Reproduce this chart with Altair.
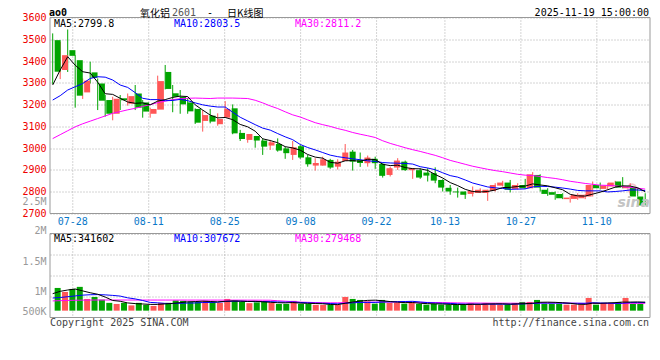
import json
import altair as alt
import pandas as pd

# ---------------- data ----------------
opens = [3496, 3359, 3450, 3404, 3256, 3348, 3297, 3221, 3158, 3229,
         3204, 3251, 3210, 3158, 3177, 3350, 3252, 3236, 3210, 3180,
         3125, 3149, 3110, 3140, 3183, 3070, 3038, 3056, 3035, 3012,
         3019, 2999, 2969, 3009, 2958, 2920, 2920, 2946, 2915, 2941,
         2984, 2945, 2931, 2951, 2928, 2877, 2911, 2938, 2899, 2899,
         2888, 2885, 2854, 2818, 2801, 2801, 2790, 2794, 2794, 2804,
         2828, 2842, 2813, 2831, 2816, 2877, 2809, 2798, 2790, 2766,
         2767, 2770, 2778, 2831, 2813, 2824, 2847, 2816, 2819, 2778]
highs = [3527, 3488, 3545, 3427, 3320, 3397, 3320, 3244, 3236, 3244,
         3251, 3290, 3221, 3186, 3333, 3382, 3290, 3267, 3229, 3183,
         3175, 3180, 3160, 3216, 3201, 3084, 3065, 3056, 3045, 3038,
         3045, 3007, 3033, 3015, 2969, 2954, 2961, 2951, 2949, 3019,
         2992, 2980, 2966, 2961, 2931, 2915, 2954, 2943, 2908, 2908,
         2908, 2912, 2857, 2831, 2819, 2801, 2824, 2816, 2809, 2839,
         2850, 2854, 2839, 2859, 2890, 2880, 2816, 2801, 2793, 2781,
         2793, 2790, 2847, 2842, 2839, 2850, 2867, 2839, 2819, 2793]
lows = [3295, 3317, 3350, 3186, 3226, 3297, 3175, 3145, 3128, 3175,
        3195, 3175, 3140, 3140, 3177, 3270, 3165, 3158, 3158, 3111,
        3076, 3114, 3103, 3140, 3064, 3033, 3025, 3002, 2969, 2992,
        2984, 2951, 2946, 2951, 2915, 2897, 2920, 2905, 2902, 2941,
        2897, 2914, 2915, 2905, 2865, 2870, 2900, 2896, 2859, 2859,
        2847, 2839, 2801, 2786, 2773, 2767, 2778, 2794, 2758, 2801,
        2824, 2797, 2809, 2813, 2816, 2801, 2781, 2763, 2766, 2750,
        2763, 2766, 2778, 2810, 2809, 2824, 2816, 2786, 2778, 2737]
closes = [3351, 3427, 3424, 3241, 3310, 3323, 3218, 3158, 3227, 3220,
          3239, 3186, 3168, 3180, 3308, 3272, 3236, 3201, 3169, 3117,
          3152, 3122, 3134, 3180, 3068, 3042, 3065, 3035, 3007, 3027,
          2989, 2977, 3004, 2957, 2926, 2932, 2949, 2911, 2938, 2980,
          2938, 2932, 2957, 2931, 2873, 2908, 2943, 2899, 2908, 2865,
          2874, 2851, 2819, 2801, 2797, 2786, 2804, 2809, 2809, 2831,
          2842, 2809, 2831, 2816, 2880, 2819, 2790, 2786, 2770, 2773,
          2786, 2786, 2831, 2816, 2828, 2842, 2819, 2824, 2778, 2737]
ma5 = [3290, 3359, 3420, 3381, 3351, 3345, 3303, 3250, 3247, 3229,
       3212, 3206, 3208, 3199, 3216, 3223, 3233, 3239, 3237, 3199,
       3175, 3152, 3139, 3141, 3131, 3109, 3098, 3078, 3043, 3035,
       3025, 3007, 3001, 2991, 2971, 2959, 2954, 2935, 2931, 2942,
       2943, 2940, 2949, 2948, 2926, 2920, 2922, 2911, 2906, 2905,
       2898, 2879, 2863, 2842, 2828, 2811, 2801, 2799, 2801, 2808,
       2819, 2820, 2824, 2826, 2836, 2831, 2827, 2818, 2809, 2788,
       2781, 2780, 2789, 2798, 2809, 2821, 2827, 2826, 2818, 2800]
ma10 = [3221, 3241, 3267, 3282, 3297, 3320, 3328, 3326, 3313, 3290,
        3279, 3255, 3229, 3223, 3223, 3218, 3219, 3224, 3218, 3208,
        3199, 3193, 3189, 3189, 3165, 3142, 3125, 3108, 3092, 3083,
        3067, 3052, 3039, 3017, 3003, 2992, 2980, 2968, 2961, 2956,
        2951, 2947, 2942, 2939, 2934, 2932, 2931, 2930, 2927, 2915,
        2909, 2901, 2887, 2874, 2867, 2854, 2840, 2831, 2822, 2818,
        2815, 2811, 2812, 2813, 2822, 2825, 2824, 2821, 2817, 2812,
        2806, 2804, 2804, 2804, 2799, 2801, 2804, 2808, 2808, 2805]
ma30 = [3044, 3062, 3080, 3098, 3112, 3124, 3136, 3148, 3160, 3168,
        3176, 3183, 3192, 3200, 3209, 3216, 3223, 3227, 3229, 3230,
        3229, 3228, 3230, 3230, 3230, 3229, 3228, 3220, 3208, 3194,
        3182, 3167, 3153, 3143, 3130, 3117, 3108, 3100, 3090, 3082,
        3072, 3064, 3057, 3049, 3034, 3022, 3012, 3002, 2993, 2985,
        2976, 2967, 2956, 2944, 2935, 2926, 2917, 2910, 2903, 2897,
        2892, 2886, 2880, 2876, 2874, 2870, 2865, 2861, 2855, 2848,
        2843, 2838, 2834, 2830, 2829, 2827, 2823, 2820, 2816, 2812]
# volumes in thousands of lots
volumes_k = [863, 711, 825, 904, 445, 521, 418, 296, 255, 296,
             201, 296, 220, 179, 293, 296, 388, 372, 334, 334,
             372, 334, 296, 445, 391, 334, 285, 315, 361, 296,
             255, 255, 372, 255, 255, 220, 220, 220, 228, 521,
             445, 407, 353, 266, 407, 293, 293, 266, 293, 255,
             228, 255, 228, 228, 228, 228, 293, 228, 293, 255,
             228, 228, 293, 331, 331, 407, 255, 255, 255, 228,
             228, 228, 483, 228, 293, 293, 331, 483, 255, 255]
vma5_k = [646, 735, 785, 823, 750, 681, 623, 517, 387, 357,
          293, 269, 254, 238, 238, 257, 275, 306, 337, 345,
          360, 349, 334, 356, 368, 360, 350, 354, 337, 318,
          302, 296, 308, 287, 278, 271, 264, 234, 229, 282,
          327, 364, 391, 398, 376, 345, 322, 305, 310, 280,
          267, 259, 252, 239, 233, 233, 241, 241, 254, 259,
          259, 246, 259, 267, 282, 318, 323, 316, 301, 280,
          244, 239, 284, 279, 292, 305, 326, 326, 331, 323]
vma10_k = [480, 500, 530, 560, 590, 605, 610, 600, 580, 554,
           487, 446, 386, 313, 298, 275, 272, 280, 288, 292,
           309, 312, 320, 347, 357, 360, 350, 344, 347, 343,
           331, 323, 331, 312, 298, 287, 280, 271, 258, 280,
           299, 314, 313, 314, 329, 336, 343, 348, 354, 328,
           306, 291, 279, 275, 257, 250, 250, 247, 247, 246,
           246, 244, 250, 261, 271, 289, 285, 288, 284, 281,
           281, 281, 300, 290, 286, 275, 283, 305, 305, 308]
vma30_k = [370, 380, 388, 395, 400, 403, 405, 405, 405, 405,
           404, 404, 403, 403, 403, 403, 403, 403, 402, 402,
           402, 401, 401, 400, 400, 400, 399, 398, 397, 396,
           376, 360, 345, 324, 317, 307, 301, 298, 297, 305,
           313, 317, 321, 324, 328, 328, 324, 321, 320, 317,
           312, 310, 307, 300, 295, 291, 291, 288, 286, 285,
           284, 283, 280, 283, 285, 292, 293, 294, 295, 285,
           278, 272, 276, 275, 271, 271, 272, 280, 278, 278]

# trading days shown (National Day holiday Oct 1-8 closed)
trade_days = [d.strftime('%m-%d') for d in pd.bdate_range('2025-07-23', '2025-11-19')
              if not ('2025-10-01' <= d.strftime('%Y-%m-%d') <= '2025-10-08')]
date_labels = ['07-28', '08-11', '08-25', '09-08', '09-22', '10-13', '10-27', '11-10']
price_ticks = [2700, 2800, 2900, 3000, 3100, 3200, 3300, 3400, 3500, 3600]
vol_tick_labels = ['500K', '1M', '1.5M', '2M', '2.5M']
legend_price = ['MA5:2799.8', 'MA10:2803.5', 'MA30:2811.2']
legend_vol = ['MA5:341602', 'MA10:307672', 'MA30:279468']

n = len(closes)
for lst in (opens, highs, lows, ma5, ma10, ma30, volumes_k, vma5_k, vma10_k, vma30_k, trade_days):
    assert len(lst) == n, len(lst)

date_label_pos = [trade_days.index(s) for s in date_labels]

# ---------------- styling / layout ----------------
RED = '#FF5656'
GREEN = '#00A400'
GRID = '#A8A8A8'
FRAME = '#999999'
MONO = 'DejaVu Sans Mono'
CJK = 'Noto Sans CJK SC'
W = 600
HP = 196            # price panel height
GAP = 20            # gap holding the date labels
HV = 84             # volume panel height
H = HP + GAP + HV
VT = HP + GAP       # volume panel top
VLO, VHI = -260, 2932          # volume scale (thousands)
vq = (VHI - VLO) / 4
vol_axis_vals = [int(VLO + vq), int(VLO + 2 * vq), int(VLO + 3 * vq), VHI, VHI - 1]
vol_label_shift = [14.5, 15.5, 6.5, -3, -32]

df = pd.DataFrame(dict(i=range(n), open=opens, high=highs, low=lows, close=closes,
                       ma5=ma5, ma10=ma10, ma30=ma30, vol=volumes_k,
                       vma5=vma5_k, vma10=vma10_k, vma30=vma30_k))
grid_df = pd.DataFrame(dict(pos=date_label_pos, lab=date_labels))
one = pd.DataFrame({'a': [0]})

base = alt.Chart(df)
xA = alt.X('i:Q', scale=alt.Scale(domain=[-0.36, n - 0.36], nice=False, zero=False), axis=None)
xB = alt.X('pos:Q', scale=alt.Scale(domain=[0, n - 1], nice=False, zero=False), axis=None)
cond = alt.condition('datum.close >= datum.open', alt.value(RED), alt.value(GREEN))
pscale = alt.Scale(domain=[2700, 3600], range=[HP, 0], nice=False, zero=False)
vscale = alt.Scale(domain=[VLO, VHI], range=[H, VT], nice=False, zero=False)


def note(text, x, y, color='#000000', size=10, font=MONO, align='left', weight='normal',
         style='normal', baseline='alphabetic'):
    return alt.Chart(pd.DataFrame({'t': [text]})).mark_text(
        align=align, baseline=baseline, font=font, fontSize=size, color=color,
        fontWeight=weight, fontStyle=style).encode(x=alt.value(x), y=alt.value(y), text='t:N')


def frame(y0, y1):
    return alt.Chart(one).mark_rect(fillOpacity=0, stroke=FRAME, strokeWidth=1).encode(
        x=alt.value(0), x2=alt.value(W), y=alt.value(y0), y2=alt.value(y1))


# vertical date grid (dates spaced over n-1 intervals) and date labels
vgrid_top = alt.Chart(grid_df).mark_rule(color=GRID, strokeDash=[1, 2], strokeWidth=1).encode(
    x=xB, y=alt.value(0), y2=alt.value(HP))
vgrid_vol = alt.Chart(grid_df).mark_rule(color=GRID, strokeDash=[1, 2], strokeWidth=1).encode(
    x=xB, y=alt.value(VT), y2=alt.value(H))
date_text = alt.Chart(grid_df).mark_text(baseline='top', align='center', font=MONO, fontSize=10,
                                         color='#0A78C8').encode(
    x=xB, y=alt.value(HP + 3), text='lab:N')

# sina watermark logo (faint)
logo = alt.Chart(one).mark_point(shape='circle', filled=False, color='#F3B9C1', size=70,
                                 strokeWidth=2, opacity=0.8).encode(
    x=alt.value(582), y=alt.value(171))

# ---------------- price panel ----------------
price_axis = alt.Axis(values=price_ticks, format='d', orient='left', labelColor='#EE0000',
                      labelFont=MONO, labelFontSize=10, labelPadding=4, ticks=False, domain=False,
                      grid=True, gridColor=GRID, gridDash=[1, 2], gridWidth=1, title=None)
wick = base.mark_rule(strokeWidth=1).encode(
    x=xA, y=alt.Y('low:Q', scale=pscale, axis=price_axis), y2='high:Q', color=cond)
body = base.mark_bar(size=6).encode(x=xA, y=alt.Y('open:Q', scale=pscale, axis=None),
                                    y2='close:Q', color=cond)
l30 = base.mark_line(color='#FF00FF', strokeWidth=1).encode(x=xA, y=alt.Y('ma30:Q', scale=pscale, axis=None))
l10 = base.mark_line(color='#0000FF', strokeWidth=1).encode(x=xA, y=alt.Y('ma10:Q', scale=pscale, axis=None))
l5 = base.mark_line(color='#000000', strokeWidth=1).encode(x=xA, y=alt.Y('ma5:Q', scale=pscale, axis=None))

# ---------------- volume panel ----------------
vol_label_expr = f"{json.dumps(vol_tick_labels)}[indexof({json.dumps(vol_axis_vals)}, datum.value)]"
vol_offset_expr = f"{json.dumps(vol_label_shift)}[indexof({json.dumps(vol_axis_vals)}, datum.value)]"
vol_axis = alt.Axis(values=vol_axis_vals, labelExpr=vol_label_expr, labelOffset={'expr': vol_offset_expr},
                    orient='left', labelOverlap=False, labelColor='#999999', labelFont=MONO,
                    labelFontSize=10, labelPadding=4, ticks=False, domain=False, grid=True,
                    gridColor=GRID, gridDash=[1, 2], gridWidth=1, title=None)
vbars = base.mark_bar(size=6).encode(x=xA, y=alt.Y('vol:Q', scale=vscale, axis=vol_axis), color=cond)
v30 = base.mark_line(color='#FF00FF', strokeWidth=1).encode(x=xA, y=alt.Y('vma30:Q', scale=vscale, axis=None))
v10 = base.mark_line(color='#0000FF', strokeWidth=1).encode(x=xA, y=alt.Y('vma10:Q', scale=vscale, axis=None))
v5 = base.mark_line(color='#000000', strokeWidth=1).encode(x=xA, y=alt.Y('vma5:Q', scale=vscale, axis=None))

chart = alt.layer(
    vgrid_top, vgrid_vol, date_text, logo,
    wick, body, l30, l10, l5,
    vbars, v30, v10, v5,
    frame(0, HP), frame(VT, H),
    note(legend_price[0], 4, 9, '#000000'),
    note(legend_price[1], 124, 9, '#0000FF'),
    note(legend_price[2], 245, 9, '#FF00FF'),
    note('sina', 600, 189, '#C4C4C4', size=14, font='DejaVu Sans', align='right',
         weight='bold', style='italic'),
    note('ao0', -1, -1.2, '#000000', size=10, weight='bold'),
    note('氧化铝', 90, -0.4, '#000000', size=10, font=CJK),
    note('2601', 122, -1.2, '#555555', size=10),
    note('-', 157, -1.2, '#000000', size=10),
    note('日K线图', 177, -0.4, '#000000', size=10, font=CJK),
    note('2025-11-19 15:00:00', 599, -1.5, '#000000', size=10, align='right'),
    note(legend_vol[0], 4, VT + 8.5, '#000000'),
    note(legend_vol[1], 124, VT + 8.5, '#0000FF'),
    note(legend_vol[2], 245, VT + 8.5, '#FF00FF'),
    note('Copyright 2025 SINA.COM', 0, VT + 92.5, '#444444'),
    note('http://finance.sina.com.cn', 599, VT + 92.5, '#444444', align='right'),
).resolve_scale(x='independent', y='independent').properties(
    width=W, height=H,
    autosize=alt.AutoSizeParams(type='none'),
    padding={'left': 42, 'top': 9.5, 'right': 2, 'bottom': 22},
    background='white',
).configure_view(strokeWidth=0)

chart.save('out.html', embed_options={'renderer': 'svg', 'actions': False})
